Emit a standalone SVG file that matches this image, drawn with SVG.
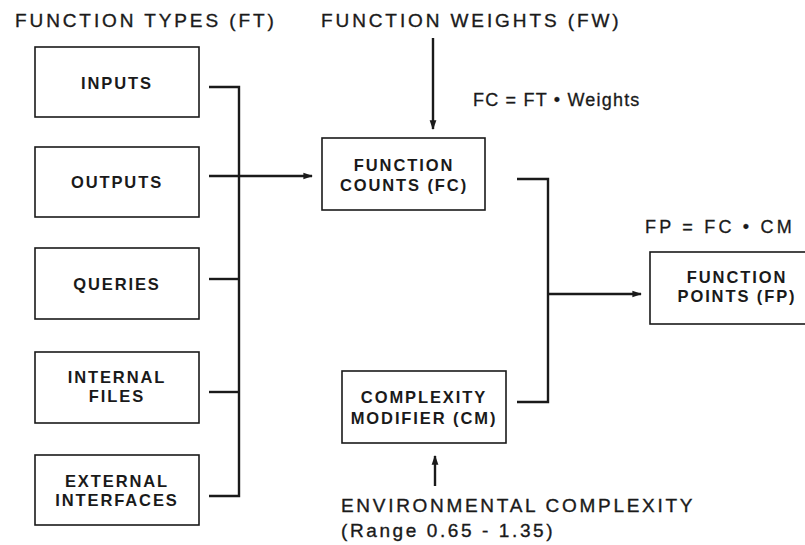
<svg xmlns="http://www.w3.org/2000/svg" width="805" height="545" viewBox="0 0 805 545">
<style>
.box{fill:#fff;stroke:#1a1a1a;stroke-width:1.6}
.lbl{font-family:"Liberation Sans",Arial,sans-serif;font-weight:bold;font-size:16.5px;letter-spacing:1.9px;fill:#1a1a1a;text-anchor:middle}
.ttl{font-family:"Liberation Sans",Arial,sans-serif;font-size:19px;letter-spacing:2.9px;fill:#1a1a1a;stroke:#1a1a1a;stroke-width:0.35}
.eq{font-family:"Liberation Sans",Arial,sans-serif;font-size:18px;letter-spacing:1.2px;fill:#1a1a1a;stroke:#1a1a1a;stroke-width:0.3}
.ln{fill:none;stroke:#1a1a1a;stroke-width:2.4}
</style>
<defs>
<marker id="ah" viewBox="0 0 10 10" refX="9" refY="5" markerWidth="4" markerHeight="4" orient="auto" markerUnits="strokeWidth">
<path d="M0,1.5 L10,5 L0,8.5 z" fill="#1a1a1a"/>
</marker>
</defs>
<rect width="805" height="545" fill="#fff"/>

<text class="ttl" x="15" y="27">FUNCTION TYPES (FT)</text>
<text class="ttl" x="321" y="27">FUNCTION WEIGHTS (FW)</text>
<text class="eq" x="473" y="106">FC = FT • Weights</text>
<text class="eq" x="645" y="233" style="letter-spacing:3.2px">FP = FC • CM</text>
<text class="ttl" x="341" y="512" style="letter-spacing:2.7px">ENVIRONMENTAL COMPLEXITY</text>
<text class="ttl" x="341" y="537" style="letter-spacing:2.6px">(Range 0.65 - 1.35)</text>

<g id="inputs"><rect class="box" x="35" y="47" width="164" height="70"/><text class="lbl" x="117" y="89">INPUTS</text></g>
<g id="outputs"><rect class="box" x="35" y="147" width="164" height="70"/><text class="lbl" x="117" y="188">OUTPUTS</text></g>
<g id="queries"><rect class="box" x="35" y="248" width="164" height="71"/><text class="lbl" x="117" y="290">QUERIES</text></g>
<g id="internal-files"><rect class="box" x="35" y="352" width="164" height="71"/><text class="lbl" x="117" y="383">INTERNAL</text><text class="lbl" x="117" y="402">FILES</text></g>
<g id="external-interfaces"><rect class="box" x="35" y="455" width="164" height="70"/><text class="lbl" x="117" y="487">EXTERNAL</text><text class="lbl" x="117" y="506">INTERFACES</text></g>
<g id="function-counts"><rect class="box" x="322" y="138" width="163" height="72"/><text class="lbl" x="404" y="171">FUNCTION</text><text class="lbl" x="404" y="191">COUNTS (FC)</text></g>
<g id="complexity-modifier"><rect class="box" x="342" y="371" width="164" height="72"/><text class="lbl" x="424" y="403">COMPLEXITY</text><text class="lbl" x="424" y="424">MODIFIER (CM)</text></g>
<g id="function-points"><rect class="box" x="650" y="252" width="175" height="72"/><text class="lbl" x="737" y="283">FUNCTION</text><text class="lbl" x="737" y="302">POINTS (FP)</text></g>

<g id="connectors">
<path class="ln" d="M209,87 H239 V496 H209"/>
<path class="ln" d="M209,279 H239"/>
<path class="ln" d="M209,392 H239"/>
<path class="ln" d="M209,176 H312" marker-end="url(#ah)"/>
<path class="ln" d="M433,38 V129" stroke-width="1.8" marker-end="url(#ah)"/>
<path class="ln" d="M517,179 H548 V402 H517"/>
<path class="ln" d="M548,294 H641" marker-end="url(#ah)"/>
<path class="ln" d="M435,486 V456" stroke-width="1.8" marker-end="url(#ah)"/>
</g>
</svg>
